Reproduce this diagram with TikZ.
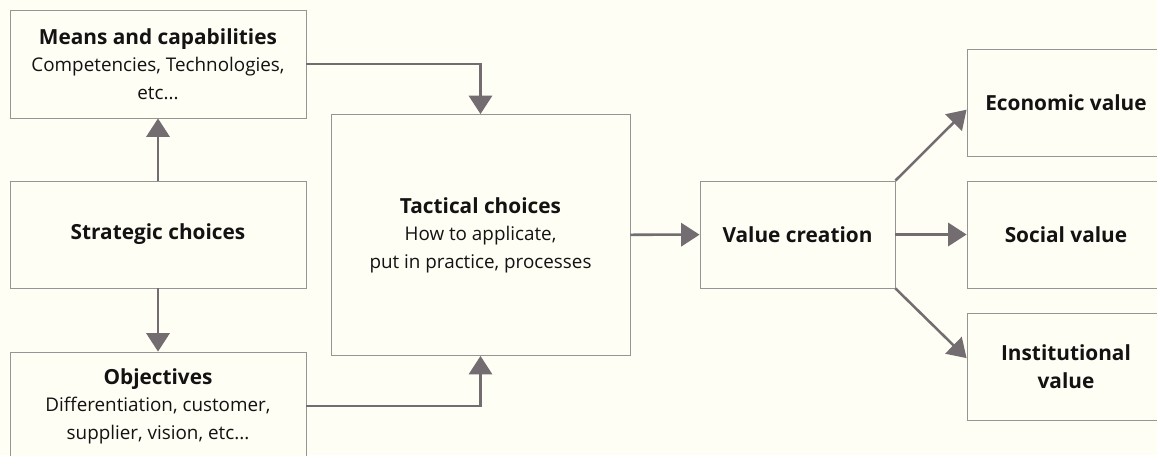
\documentclass[tikz,border=0pt]{standalone}
\usepackage{fontspec}
\setmainfont{Open Sans}
\usetikzlibrary{arrows.meta}

\definecolor{bgcream}{RGB}{254,254,245}
\definecolor{arrowgray}{RGB}{115,108,112}
\definecolor{boxline}{RGB}{150,148,148}
\definecolor{txt}{RGB}{20,18,18}

% bold box title
\newcommand{\boxtitle}[1]{{\fontsize{14.8}{19.5}\selectfont\bfseries #1}}

\tikzset{
  box/.style={draw=boxline,line width=0.6pt,fill=bgcream,align=center,text=txt,
    inner sep=0pt,font=\fontsize{13.4}{19.5}\selectfont},
  arr/.style={draw=arrowgray,line width=1.8pt,
    -{Triangle[length=0.46cm,width=0.58cm]}},
}

\begin{document}
\begin{tikzpicture}[x=0.025cm,y=-0.025cm]
% page and background
\clip (0,0) rectangle (1157,455);
\fill[bgcream] (0,0) rectangle (1157,455);
% left column
\node[box,minimum width=7.4cm,minimum height=2.7cm] (means) at (158,64)
  {\boxtitle{Means and capabilities}\\Competencies, Technologies,\\etc...};
\node[box,minimum width=7.4cm,minimum height=2.675cm] (strat) at (158,234.5)
  {\boxtitle{Strategic choices}};
\node[box,minimum width=7.4cm,minimum height=2.7cm] (obj) at (158,406)
  {\boxtitle{Objectives}\\Differentiation, customer,\\supplier, vision, etc...};
% middle
\node[box,minimum width=7.475cm,minimum height=6.025cm] (tact) at (480.5,235)
  {\boxtitle{Tactical choices}\\How to applicate,\\put in practice, processes};
\node[box,minimum width=4.875cm,minimum height=2.675cm] (val) at (797.5,234.5)
  {\boxtitle{Value creation}};
% right column
\node[box,minimum width=4.95cm,minimum height=2.675cm] (econ) at (1066,102.5)
  {\boxtitle{Economic value}};
\node[box,minimum width=4.95cm,minimum height=2.675cm] (soc) at (1066,234.5)
  {\boxtitle{Social value}};
\node[box,minimum width=4.95cm,minimum height=2.675cm] (inst) at (1066,366.5)
  {\boxtitle{Institutional}\\\boxtitle{value}};
% connectors
\draw[arr] (strat) -- (means);
\draw[arr] (strat) -- (obj);
\draw[arr] (means.east) -- (means.east -| tact.north) -- (tact.north);
\draw[arr] (obj.east) -- (obj.east -| tact.south) -- (tact.south);
\draw[arr] (tact) -- (val);
\draw[arr] (val.north east) -- ([yshift=-0.18cm]econ.west);
\draw[arr] (val) -- (soc);
\draw[arr] (val.south east) -- ([yshift=0.21cm]inst.west);
\end{tikzpicture}
\end{document}
